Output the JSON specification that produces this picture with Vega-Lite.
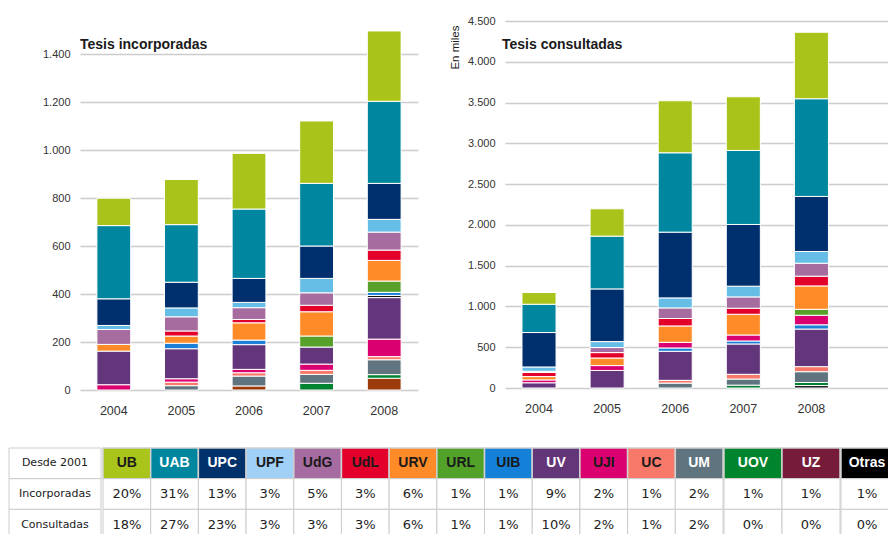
{
  "$schema": "https://vega.github.io/schema/vega-lite/v6.json",
  "background": "white",
  "padding": {"left": 8, "top": 15, "right": 0, "bottom": 0},
  "config": {
    "view": {"stroke": null},
    "font": "Liberation Sans",
    "axis": {"labelFont": "Liberation Sans", "labelColor": "#333333"}
  },
  "datasets": {
    "inc": [
      {"year": "2004", "uni": "UJI", "value": 22},
      {"year": "2004", "uni": "UV", "value": 140},
      {"year": "2004", "uni": "URV", "value": 28},
      {"year": "2004", "uni": "UdG", "value": 62},
      {"year": "2004", "uni": "UPF", "value": 17},
      {"year": "2004", "uni": "UPC", "value": 111},
      {"year": "2004", "uni": "UAB", "value": 305},
      {"year": "2004", "uni": "UB", "value": 114},
      {"year": "2005", "uni": "UM", "value": 18},
      {"year": "2005", "uni": "UC", "value": 15},
      {"year": "2005", "uni": "UJI", "value": 14},
      {"year": "2005", "uni": "UV", "value": 125},
      {"year": "2005", "uni": "UIB", "value": 23},
      {"year": "2005", "uni": "URV", "value": 30},
      {"year": "2005", "uni": "UdL", "value": 21},
      {"year": "2005", "uni": "UdG", "value": 59},
      {"year": "2005", "uni": "UPF", "value": 37},
      {"year": "2005", "uni": "UPC", "value": 107},
      {"year": "2005", "uni": "UAB", "value": 240},
      {"year": "2005", "uni": "UB", "value": 188},
      {"year": "2006", "uni": "UZ", "value": 17},
      {"year": "2006", "uni": "UM", "value": 41},
      {"year": "2006", "uni": "UC", "value": 14},
      {"year": "2006", "uni": "UJI", "value": 14},
      {"year": "2006", "uni": "UV", "value": 103},
      {"year": "2006", "uni": "UIB", "value": 19},
      {"year": "2006", "uni": "URV", "value": 72},
      {"year": "2006", "uni": "UdL", "value": 14},
      {"year": "2006", "uni": "UdG", "value": 49},
      {"year": "2006", "uni": "UPF", "value": 22},
      {"year": "2006", "uni": "UPC", "value": 100},
      {"year": "2006", "uni": "UAB", "value": 289},
      {"year": "2006", "uni": "UB", "value": 232},
      {"year": "2007", "uni": "UOV", "value": 28},
      {"year": "2007", "uni": "UM", "value": 37},
      {"year": "2007", "uni": "UC", "value": 17},
      {"year": "2007", "uni": "UJI", "value": 26},
      {"year": "2007", "uni": "UV", "value": 71},
      {"year": "2007", "uni": "URL", "value": 46},
      {"year": "2007", "uni": "URV", "value": 101},
      {"year": "2007", "uni": "UdL", "value": 27},
      {"year": "2007", "uni": "UdG", "value": 52},
      {"year": "2007", "uni": "UPF", "value": 60},
      {"year": "2007", "uni": "UPC", "value": 135},
      {"year": "2007", "uni": "UAB", "value": 261},
      {"year": "2007", "uni": "UB", "value": 260},
      {"year": "2008", "uni": "UZ", "value": 49},
      {"year": "2008", "uni": "UOV", "value": 15},
      {"year": "2008", "uni": "UM", "value": 62},
      {"year": "2008", "uni": "UC", "value": 13},
      {"year": "2008", "uni": "UJI", "value": 73},
      {"year": "2008", "uni": "UV", "value": 173},
      {"year": "2008", "uni": "Otras", "value": 9},
      {"year": "2008", "uni": "UIB", "value": 13},
      {"year": "2008", "uni": "URL", "value": 47},
      {"year": "2008", "uni": "URV", "value": 86},
      {"year": "2008", "uni": "UdL", "value": 43},
      {"year": "2008", "uni": "UdG", "value": 75},
      {"year": "2008", "uni": "UPF", "value": 53},
      {"year": "2008", "uni": "UPC", "value": 150},
      {"year": "2008", "uni": "UAB", "value": 342},
      {"year": "2008", "uni": "UB", "value": 293}
    ],
    "con": [
      {"year": "2004", "uni": "UV", "value": 64},
      {"year": "2004", "uni": "UJI", "value": 35},
      {"year": "2004", "uni": "URV", "value": 41},
      {"year": "2004", "uni": "UdL", "value": 50},
      {"year": "2004", "uni": "UdG", "value": 15},
      {"year": "2004", "uni": "UPF", "value": 53},
      {"year": "2004", "uni": "UPC", "value": 422},
      {"year": "2004", "uni": "UAB", "value": 347},
      {"year": "2004", "uni": "UB", "value": 144},
      {"year": "2005", "uni": "UV", "value": 215},
      {"year": "2005", "uni": "UJI", "value": 60},
      {"year": "2005", "uni": "URV", "value": 93},
      {"year": "2005", "uni": "UdL", "value": 66},
      {"year": "2005", "uni": "UdG", "value": 62},
      {"year": "2005", "uni": "UPF", "value": 73},
      {"year": "2005", "uni": "UPC", "value": 646},
      {"year": "2005", "uni": "UAB", "value": 647},
      {"year": "2005", "uni": "UB", "value": 335},
      {"year": "2006", "uni": "UM", "value": 60},
      {"year": "2006", "uni": "UC", "value": 34},
      {"year": "2006", "uni": "UV", "value": 356},
      {"year": "2006", "uni": "UIB", "value": 41},
      {"year": "2006", "uni": "UJI", "value": 69},
      {"year": "2006", "uni": "URV", "value": 201},
      {"year": "2006", "uni": "UdL", "value": 91},
      {"year": "2006", "uni": "UdG", "value": 130},
      {"year": "2006", "uni": "UPF", "value": 123},
      {"year": "2006", "uni": "UPC", "value": 806},
      {"year": "2006", "uni": "UAB", "value": 973},
      {"year": "2006", "uni": "UB", "value": 638},
      {"year": "2007", "uni": "UOV", "value": 35},
      {"year": "2007", "uni": "UM", "value": 75},
      {"year": "2007", "uni": "UC", "value": 58},
      {"year": "2007", "uni": "UV", "value": 372},
      {"year": "2007", "uni": "UIB", "value": 37},
      {"year": "2007", "uni": "UJI", "value": 73},
      {"year": "2007", "uni": "URV", "value": 254},
      {"year": "2007", "uni": "UdL", "value": 74},
      {"year": "2007", "uni": "UdG", "value": 139},
      {"year": "2007", "uni": "UPF", "value": 131},
      {"year": "2007", "uni": "UPC", "value": 757},
      {"year": "2007", "uni": "UAB", "value": 908},
      {"year": "2007", "uni": "UB", "value": 658},
      {"year": "2008", "uni": "Otras", "value": 30},
      {"year": "2008", "uni": "UOV", "value": 38},
      {"year": "2008", "uni": "UM", "value": 132},
      {"year": "2008", "uni": "UC", "value": 62},
      {"year": "2008", "uni": "UV", "value": 461},
      {"year": "2008", "uni": "UIB", "value": 52},
      {"year": "2008", "uni": "UJI", "value": 117},
      {"year": "2008", "uni": "URL", "value": 73},
      {"year": "2008", "uni": "URV", "value": 287},
      {"year": "2008", "uni": "UdL", "value": 119},
      {"year": "2008", "uni": "UdG", "value": 159},
      {"year": "2008", "uni": "UPF", "value": 144},
      {"year": "2008", "uni": "UPC", "value": 675},
      {"year": "2008", "uni": "UAB", "value": 1198},
      {"year": "2008", "uni": "UB", "value": 815}
    ],
    "tbl": [
      {"row": "Desde 2001", "col": "label", "text": "Desde 2001"},
      {"row": "Incorporadas", "col": "label", "text": "Incorporadas"},
      {"row": "Consultadas", "col": "label", "text": "Consultadas"},
      {"row": "Desde 2001", "col": "UB", "text": "UB"},
      {"row": "Desde 2001", "col": "UAB", "text": "UAB"},
      {"row": "Desde 2001", "col": "UPC", "text": "UPC"},
      {"row": "Desde 2001", "col": "UPF", "text": "UPF"},
      {"row": "Desde 2001", "col": "UdG", "text": "UdG"},
      {"row": "Desde 2001", "col": "UdL", "text": "UdL"},
      {"row": "Desde 2001", "col": "URV", "text": "URV"},
      {"row": "Desde 2001", "col": "URL", "text": "URL"},
      {"row": "Desde 2001", "col": "UIB", "text": "UIB"},
      {"row": "Desde 2001", "col": "UV", "text": "UV"},
      {"row": "Desde 2001", "col": "UJI", "text": "UJI"},
      {"row": "Desde 2001", "col": "UC", "text": "UC"},
      {"row": "Desde 2001", "col": "UM", "text": "UM"},
      {"row": "Desde 2001", "col": "UOV", "text": "UOV"},
      {"row": "Desde 2001", "col": "UZ", "text": "UZ"},
      {"row": "Desde 2001", "col": "Otras", "text": "Otras"},
      {"row": "Incorporadas", "col": "UB", "text": "20%"},
      {"row": "Incorporadas", "col": "UAB", "text": "31%"},
      {"row": "Incorporadas", "col": "UPC", "text": "13%"},
      {"row": "Incorporadas", "col": "UPF", "text": "3%"},
      {"row": "Incorporadas", "col": "UdG", "text": "5%"},
      {"row": "Incorporadas", "col": "UdL", "text": "3%"},
      {"row": "Incorporadas", "col": "URV", "text": "6%"},
      {"row": "Incorporadas", "col": "URL", "text": "1%"},
      {"row": "Incorporadas", "col": "UIB", "text": "1%"},
      {"row": "Incorporadas", "col": "UV", "text": "9%"},
      {"row": "Incorporadas", "col": "UJI", "text": "2%"},
      {"row": "Incorporadas", "col": "UC", "text": "1%"},
      {"row": "Incorporadas", "col": "UM", "text": "2%"},
      {"row": "Incorporadas", "col": "UOV", "text": "1%"},
      {"row": "Incorporadas", "col": "UZ", "text": "1%"},
      {"row": "Incorporadas", "col": "Otras", "text": "1%"},
      {"row": "Consultadas", "col": "UB", "text": "18%"},
      {"row": "Consultadas", "col": "UAB", "text": "27%"},
      {"row": "Consultadas", "col": "UPC", "text": "23%"},
      {"row": "Consultadas", "col": "UPF", "text": "3%"},
      {"row": "Consultadas", "col": "UdG", "text": "3%"},
      {"row": "Consultadas", "col": "UdL", "text": "3%"},
      {"row": "Consultadas", "col": "URV", "text": "6%"},
      {"row": "Consultadas", "col": "URL", "text": "1%"},
      {"row": "Consultadas", "col": "UIB", "text": "1%"},
      {"row": "Consultadas", "col": "UV", "text": "10%"},
      {"row": "Consultadas", "col": "UJI", "text": "2%"},
      {"row": "Consultadas", "col": "UC", "text": "1%"},
      {"row": "Consultadas", "col": "UM", "text": "2%"},
      {"row": "Consultadas", "col": "UOV", "text": "0%"},
      {"row": "Consultadas", "col": "UZ", "text": "0%"},
      {"row": "Consultadas", "col": "Otras", "text": "0%"}
    ]
  },
  "columns": 2,
  "bounds": "flush",
  "align": "none",
  "spacing": {"row": 58, "column": 87},
  "resolve": {"scale": {"color": "independent"}},
  "concat": [
    {
      "width": 338,
      "height": 369,
      "data": {"name": "inc"},
      "transform": [{"calculate": "indexof(['UZ','UOV','UM','UC','UJI','UV','Otras','UIB','URL','URV','UdL','UdG','UPF','UPC','UAB','UB'], datum.uni)", "as": "rank"}],
      "title": {"text": "Tesis incorporadas", "anchor": "start", "frame": "group", "offset": -42, "baseline": "alphabetic", "fontSize": 14, "fontWeight": "bold", "font": "Liberation Sans", "color": "#1a1a1a"},
      "mark": {"type": "bar", "stroke": "white", "strokeWidth": 1},
      "encoding": {
        "x": {"field": "year", "type": "ordinal", "scale": {"paddingInner": 0.5, "paddingOuter": 0.25}, "axis": {"title": null, "labelAngle": 0, "domain": false, "ticks": false, "labelPadding": 14, "labelFontSize": 12.5, "grid": false}},
        "y": {"field": "value", "type": "quantitative", "stack": "zero", "scale": {"domain": [0, 1537.5], "nice": false}, "axis": {"title": null, "values": [0, 200, 400, 600, 800, 1000, 1200, 1400], "domain": false, "ticks": false, "labelPadding": 10, "labelFontSize": 11, "gridColor": "#cccccc", "gridWidth": 1.5, "labelExpr": "replace(format(datum.value, ','), ',', '.')"}},
        "order": {"field": "rank", "type": "quantitative", "sort": "ascending"},
        "color": {"field": "uni", "type": "nominal", "legend": null,
          "scale": {"domain": ["UB", "UAB", "UPC", "UPF", "UdG", "UdL", "URV", "URL", "UIB", "Otras", "UV", "UJI", "UC", "UM", "UOV", "UZ"],
                    "range": ["#aac31b", "#00869e", "#002f6e", "#66bde6", "#a66b9f", "#e3002b", "#ff8a28", "#57a12b", "#1c80d6", "#111111", "#63357a", "#db006f", "#f8796a", "#5f747f", "#008230", "#9b3a0a"]}}
      }
    },
    {
      "width": 384,
      "height": 367,
      "data": {"name": "con"},
      "transform": [{"calculate": "indexof(['Otras','UZ','UOV','UM','UC','UV','UIB','UJI','URL','URV','UdL','UdG','UPF','UPC','UAB','UB'], datum.uni)", "as": "rank"}],
      "title": {"text": "Tesis consultadas", "anchor": "start", "frame": "group", "offset": -48, "dx": -3, "baseline": "alphabetic", "fontSize": 14, "fontWeight": "bold", "font": "Liberation Sans", "color": "#1a1a1a"},
      "mark": {"type": "bar", "stroke": "white", "strokeWidth": 1},
      "encoding": {
        "x": {"field": "year", "type": "ordinal", "scale": {"paddingInner": 0.5, "paddingOuter": 0.5694, "align": 0.2192}, "axis": {"title": null, "labelAngle": 0, "domain": false, "ticks": false, "labelPadding": 14, "labelFontSize": 12.5, "grid": false}},
        "y": {"field": "value", "type": "quantitative", "stack": "zero", "scale": {"domain": [0, 4500], "nice": false}, "axis": {"title": "En miles", "titleAnchor": "end", "titleY": 4, "titleFontSize": 11.5, "titleFontWeight": "normal", "titleFont": "Liberation Sans", "titleColor": "#222222", "titlePadding": 7, "values": [0, 500, 1000, 1500, 2000, 2500, 3000, 3500, 4000, 4500], "domain": false, "ticks": false, "labelPadding": 10, "labelFontSize": 11, "gridColor": "#cccccc", "gridWidth": 1.5, "labelExpr": "replace(format(datum.value, ','), ',', '.')"}},
        "order": {"field": "rank", "type": "quantitative", "sort": "ascending"},
        "color": {"field": "uni", "type": "nominal", "legend": null,
          "scale": {"domain": ["UB", "UAB", "UPC", "UPF", "UdG", "UdL", "URV", "URL", "UJI", "UIB", "UV", "UC", "UM", "UOV", "UZ", "Otras"],
                    "range": ["#aac31b", "#00869e", "#002f6e", "#66bde6", "#a66b9f", "#e3002b", "#ff8a28", "#57a12b", "#db006f", "#1c80d6", "#63357a", "#f8796a", "#5f747f", "#008230", "#9b3a0a", "#111111"]}}
      }
    },
    {
      "width": 338,
      "height": 92,
      "data": {"name": "tbl"},
      "encoding": {
        "y": {"field": "row", "type": "nominal", "sort": ["Desde 2001", "Incorporadas", "Consultadas"], "scale": {"paddingInner": 0, "paddingOuter": 0}, "axis": null}
      },
      "resolve": {"scale": {"x": "independent"}},
      "layer": [
        {
          "transform": [{"filter": "datum.col == 'label'"}],
          "encoding": {"x": {"field": "col", "type": "nominal", "scale": {"domain": ["label"], "range": [-71, 21], "paddingInner": 0, "paddingOuter": 0}, "axis": null}},
          "layer": [
            {"mark": {"type": "rect", "fill": "white", "stroke": "#cccccc", "strokeWidth": 1}},
            {"mark": {"type": "text", "font": "DejaVu Sans", "fontSize": 11, "color": "#1a1a1a"}, "encoding": {"text": {"field": "text"}}}
          ]
        },
        {
          "transform": [{"filter": "indexof(['UB','UAB','UPC','UPF','UdG','UdL','URV','URL','UIB','UV','UJI','UC','UM'], datum.col) >= 0"}],
          "encoding": {"x": {"field": "col", "type": "nominal", "scale": {"domain": ["UB", "UAB", "UPC", "UPF", "UdG", "UdL", "URV", "URL", "UIB", "UV", "UJI", "UC", "UM"], "range": [23, 643], "paddingInner": 0, "paddingOuter": 0}, "axis": null}},
          "layer": [
            {"transform": [{"filter": "datum.row == 'Desde 2001'"}],
             "mark": {"type": "rect", "stroke": "#d0d0d0", "strokeWidth": 1.5},
             "encoding": {"color": {"field": "col", "type": "nominal", "legend": null,
               "scale": {"domain": ["UB", "UAB", "UPC", "UPF", "UdG", "UdL", "URV", "URL", "UIB", "UV", "UJI", "UC", "UM", "UOV", "UZ", "Otras"],
                         "range": ["#a9c41a", "#00869e", "#00316b", "#a0d0f5", "#a66ba0", "#e3002b", "#ff8a28", "#52a22a", "#1480d8", "#633579", "#db006f", "#f8796a", "#5f747f", "#00842d", "#761c3a", "#000000"]}}}},
            {"transform": [{"filter": "datum.row != 'Desde 2001'"}],
             "mark": {"type": "rect", "fill": "white", "stroke": "#cccccc", "strokeWidth": 1}},
            {"transform": [{"filter": "datum.row == 'Desde 2001'"}],
             "mark": {"type": "text", "font": "Liberation Sans", "fontSize": 14, "fontWeight": "bold"},
             "encoding": {"text": {"field": "text"}, "color": {"condition": {"test": "indexof(['UAB','UPC','UV','UM','UOV','UZ','Otras'], datum.col) >= 0", "value": "white"}, "value": "#1a1a1a"}}},
            {"transform": [{"filter": "datum.row != 'Desde 2001'"}],
             "mark": {"type": "text", "font": "DejaVu Sans", "fontSize": 13, "color": "#222222"},
             "encoding": {"text": {"field": "text"}}}
          ]
        },
        {
          "transform": [{"filter": "indexof(['UOV','UZ'], datum.col) >= 0"}],
          "encoding": {"x": {"field": "col", "type": "nominal", "scale": {"domain": ["UOV", "UZ"], "range": [644, 760], "paddingInner": 0, "paddingOuter": 0}, "axis": null}},
          "layer": [
            {"transform": [{"filter": "datum.row == 'Desde 2001'"}],
             "mark": {"type": "rect", "stroke": "#d0d0d0", "strokeWidth": 1.5},
             "encoding": {"color": {"field": "col", "type": "nominal", "legend": null,
               "scale": {"domain": ["UB", "UAB", "UPC", "UPF", "UdG", "UdL", "URV", "URL", "UIB", "UV", "UJI", "UC", "UM", "UOV", "UZ", "Otras"],
                         "range": ["#a9c41a", "#00869e", "#00316b", "#a0d0f5", "#a66ba0", "#e3002b", "#ff8a28", "#52a22a", "#1480d8", "#633579", "#db006f", "#f8796a", "#5f747f", "#00842d", "#761c3a", "#000000"]}}}},
            {"transform": [{"filter": "datum.row != 'Desde 2001'"}],
             "mark": {"type": "rect", "fill": "white", "stroke": "#cccccc", "strokeWidth": 1}},
            {"transform": [{"filter": "datum.row == 'Desde 2001'"}],
             "mark": {"type": "text", "font": "Liberation Sans", "fontSize": 14, "fontWeight": "bold", "color": "white"},
             "encoding": {"text": {"field": "text"}}},
            {"transform": [{"filter": "datum.row != 'Desde 2001'"}],
             "mark": {"type": "text", "font": "DejaVu Sans", "fontSize": 13, "color": "#222222"},
             "encoding": {"text": {"field": "text"}}}
          ]
        },
        {
          "transform": [{"filter": "datum.col == 'Otras'"}],
          "encoding": {"x": {"field": "col", "type": "nominal", "scale": {"domain": ["Otras"], "range": [761, 813], "paddingInner": 0, "paddingOuter": 0}, "axis": null}},
          "layer": [
            {"transform": [{"filter": "datum.row == 'Desde 2001'"}],
             "mark": {"type": "rect", "stroke": "#d0d0d0", "strokeWidth": 1.5},
             "encoding": {"color": {"field": "col", "type": "nominal", "legend": null,
               "scale": {"domain": ["UB", "UAB", "UPC", "UPF", "UdG", "UdL", "URV", "URL", "UIB", "UV", "UJI", "UC", "UM", "UOV", "UZ", "Otras"],
                         "range": ["#a9c41a", "#00869e", "#00316b", "#a0d0f5", "#a66ba0", "#e3002b", "#ff8a28", "#52a22a", "#1480d8", "#633579", "#db006f", "#f8796a", "#5f747f", "#00842d", "#761c3a", "#000000"]}}}},
            {"transform": [{"filter": "datum.row != 'Desde 2001'"}],
             "mark": {"type": "rect", "fill": "white", "stroke": "#cccccc", "strokeWidth": 1}},
            {"transform": [{"filter": "datum.row == 'Desde 2001'"}],
             "mark": {"type": "text", "font": "Liberation Sans", "fontSize": 14, "fontWeight": "bold", "color": "white"},
             "encoding": {"text": {"field": "text"}}},
            {"transform": [{"filter": "datum.row != 'Desde 2001'"}],
             "mark": {"type": "text", "font": "DejaVu Sans", "fontSize": 13, "color": "#222222"},
             "encoding": {"text": {"field": "text"}}}
          ]
        }
      ]
    }
  ]
}
